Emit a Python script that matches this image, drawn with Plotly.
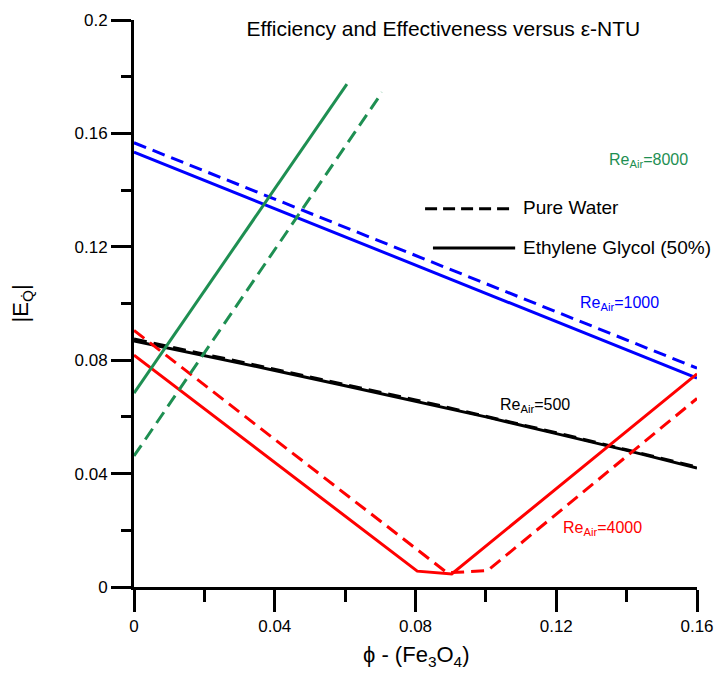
import plotly.graph_objects as go

# Volume fraction of Fe3O4 nanoparticles and |E_Q| for each air Reynolds number
phi_8000_eg = [0.0, 0.0605]
eq_8000_eg = [0.0684, 0.1774]
phi_8000_w = [0.0, 0.0705]
eq_8000_w = [0.0462, 0.1745]

phi_1000 = [0.0, 0.16]
eq_1000_eg = [0.1534, 0.0737]
eq_1000_w = [0.1567, 0.0772]

phi_500 = [0.0, 0.02, 0.04, 0.06, 0.08, 0.10, 0.12, 0.14, 0.16]
eq_500_w = [0.0875, 0.0822, 0.0768, 0.0714, 0.0660, 0.0603, 0.0544, 0.0484, 0.0423]
eq_500_eg = [0.0868, 0.0817, 0.0764, 0.0710, 0.0656, 0.0600, 0.0541, 0.0482, 0.0420]

phi_4000_eg = [0.0, 0.0805, 0.0903, 0.16]
eq_4000_eg = [0.0818, 0.0056, 0.0046, 0.0752]
phi_4000_w = [0.0, 0.0890, 0.1005, 0.16]
eq_4000_w = [0.0905, 0.0050, 0.0058, 0.0665]

x_ticks = [0, 0.04, 0.08, 0.12, 0.16]
y_ticks = [0, 0.04, 0.08, 0.12, 0.16, 0.2]

GREEN = "#1e8f52"
BLUE = "#0000ff"
RED = "#ff0000"
BLACK = "#000000"
DASH = "13px,7px"
FONT = "Liberation Sans, Arial, sans-serif"

fig = go.Figure()

def add_line(x, y, color, dashed):
    fig.add_trace(go.Scatter(
        x=x, y=y, mode="lines", showlegend=False, hoverinfo="skip",
        line=dict(color=color, width=3, dash=DASH if dashed else "solid"),
    ))

add_line(phi_1000, eq_1000_w, BLUE, True)
add_line(phi_1000, eq_1000_eg, BLUE, False)
add_line(phi_500, eq_500_w, BLACK, True)
add_line(phi_500, eq_500_eg, BLACK, False)
add_line(phi_4000_w, eq_4000_w, RED, True)
add_line(phi_4000_eg, eq_4000_eg, RED, False)
add_line(phi_8000_w, eq_8000_w, GREEN, True)
add_line(phi_8000_eg, eq_8000_eg, GREEN, False)

# Reynolds-number labels beside each curve family
re_labels = [
    ("Re<sub>Air</sub>=8000", 0.1344, 0.1505, GREEN),
    ("Re<sub>Air</sub>=1000", 0.1262, 0.1000, BLUE),
    ("Re<sub>Air</sub>=500", 0.1034, 0.0640, BLACK),
    ("Re<sub>Air</sub>=4000", 0.1213, 0.0207, RED),
]
for text, x, y, color in re_labels:
    fig.add_annotation(x=x, y=y, xref="x", yref="y", text=text, showarrow=False,
                       xanchor="left", yanchor="middle",
                       font=dict(family=FONT, size=16, color=color))

# Fluid key: dashed = pure water, solid = ethylene glycol
fig.add_shape(type="line", xref="paper", yref="paper", x0=0.517, x1=0.671, y0=0.667, y1=0.667,
              line=dict(color=BLACK, width=3, dash="12px,6px"))
fig.add_shape(type="line", xref="paper", yref="paper", x0=0.531, x1=0.677, y0=0.598, y1=0.598,
              line=dict(color=BLACK, width=3))
fig.add_annotation(x=0.687, y=0.670, xref="paper", yref="paper", text="Pure Water",
                   showarrow=False, xanchor="left", yanchor="middle",
                   font=dict(family=FONT, size=19, color=BLACK))
fig.add_annotation(x=0.687, y=0.598, xref="paper", yref="paper", text="Ethylene Glycol (50%)",
                   showarrow=False, xanchor="left", yanchor="middle",
                   font=dict(family=FONT, size=19, color=BLACK))

# Axis titles
fig.add_annotation(x=-0.199, y=0.5, xref="paper", yref="paper",
                   text="|E<sub>Q\u0307</sub>|", textangle=-90, showarrow=False,
                   xanchor="center", yanchor="middle",
                   font=dict(family=FONT, size=22, color=BLACK))
fig.add_annotation(x=0.5, y=-0.122, xref="paper", yref="paper",
                   text="\u03d5 - (Fe<sub>3</sub>O<sub>4</sub>)", showarrow=False,
                   xanchor="center", yanchor="middle",
                   font=dict(family=FONT, size=22, color=BLACK))

fig.update_layout(
    width=715, height=674,
    margin=dict(l=134, r=18, t=20, b=87, autoexpand=False),
    paper_bgcolor="white", plot_bgcolor="white",
    title=dict(text="Efficiency and Effectiveness versus \u03b5-NTU",
               x=0.62, xanchor="center", xref="container",
               y=1 - 29 / 674, yanchor="middle", yref="container",
               font=dict(family=FONT, size=21, color=BLACK)),
    font=dict(family=FONT, color=BLACK),
)

fig.update_xaxes(
    range=[0, 0.16], tickvals=x_ticks, ticktext=["0", "0.04", "0.08", "0.12", "0.16"],
    automargin=False,
    showgrid=False, zeroline=False, showline=True, linecolor=BLACK, linewidth=3,
    ticks="outside", ticklen=22, tickwidth=3, tickcolor=BLACK,
    tickfont=dict(family=FONT, size=17, color=BLACK),
    minor=dict(ticks="outside", ticklen=12, tickwidth=3, tickcolor=BLACK, dtick=0.02,
               tick0=0, showgrid=False),
)
fig.update_yaxes(
    range=[0, 0.2], tickvals=y_ticks, ticktext=["0", "0.04", "0.08", "0.12", "0.16", "0.2"],
    automargin=False,
    showgrid=False, zeroline=False, showline=True, linecolor=BLACK, linewidth=3,
    ticks="outside", ticklen=20, tickwidth=3, tickcolor=BLACK,
    tickfont=dict(family=FONT, size=17, color=BLACK),
    minor=dict(ticks="outside", ticklen=10, tickwidth=3, tickcolor=BLACK, dtick=0.02,
               tick0=0, showgrid=False),
)

fig.write_html("out.html")
